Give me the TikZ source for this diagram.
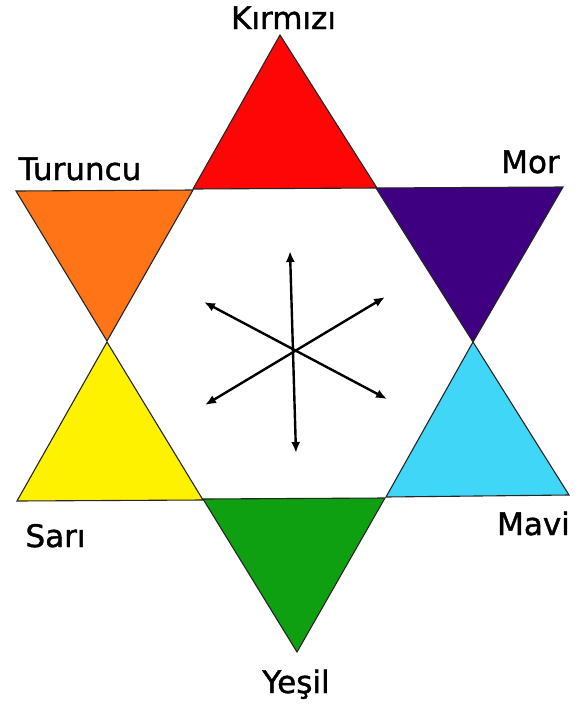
\documentclass[tikz,border=0pt]{standalone}
\usepackage{fontspec}
\setmainfont{DejaVu Sans}[FakeBold=1.3]
\usetikzlibrary{arrows.meta}
\definecolor{cred}{RGB}{255,6,6}
\definecolor{corange}{RGB}{255,116,22}
\definecolor{cpurple}{RGB}{62,0,128}
\definecolor{cyellow}{RGB}{255,242,0}
\definecolor{ccyan}{RGB}{64,214,248}
\definecolor{cgreen}{RGB}{14,160,16}
\begin{document}
\begin{tikzpicture}[x=1pt,y=-1pt,
  tri/.style={draw=black!85, line width=1.1pt, line join=miter},
  lbl/.style={font=\fontsize{31}{31}\selectfont, inner sep=0pt, anchor=base},
  arr/.style={line width=2.4pt, {Latex[length=11pt,width=9pt]}-{Latex[length=11pt,width=9pt]}}]
\useasboundingbox (0,0) rectangle (579,705);
\fill[white] (0,0) rectangle (579,705);
% vertices
\coordinate (R1) at (280,35);  \coordinate (R2) at (193,189); \coordinate (R3) at (377,188);
\coordinate (O1) at (16,191);  \coordinate (O2) at (193,190); \coordinate (O3) at (107,341);
\coordinate (P1) at (376,188); \coordinate (P2) at (563,187); \coordinate (P3) at (473,342);
\coordinate (Y1) at (107,342); \coordinate (Y2) at (17,501);  \coordinate (Y3) at (203,500);
\coordinate (C1) at (473,342); \coordinate (C2) at (386,497); \coordinate (C3) at (569,495);
\coordinate (G1) at (203,499); \coordinate (G2) at (385,498); \coordinate (G3) at (297,652);
% triangles
\filldraw[tri, fill=cred]    (R1) -- (R2) -- (R3) -- cycle;
\filldraw[tri, fill=corange] (O1) -- (O2) -- (O3) -- cycle;
\filldraw[tri, fill=cpurple] (P1) -- (P2) -- (P3) -- cycle;
\filldraw[tri, fill=cyellow] (Y1) -- (Y2) -- (Y3) -- cycle;
\filldraw[tri, fill=ccyan]   (C1) -- (C2) -- (C3) -- cycle;
\filldraw[tri, fill=cgreen]  (G1) -- (G2) -- (G3) -- cycle;
% arrows
\coordinate (up) at (290,251);  \coordinate (dn) at (296,453);
\coordinate (ul) at (204,302);  \coordinate (lr) at (387,399);
\coordinate (ur) at (385,297);  \coordinate (ll) at (205,405);
\draw[arr] (up) -- (dn);
\draw[arr] (ul) -- (lr);
\draw[arr] (ur) -- (ll);
% labels
\node[lbl] (kir) at (283.5,29) {Kırmızı};
\node[lbl] (tur) at (80,180) {Turuncu};
\node[lbl] (mor) at (530.5,173) {Mor};
\node[lbl] (sar) at (55.5,547) {Sarı};
\node[lbl] (mav) at (533.5,535) {Mavi};
\node[lbl] (yes) at (296,693) {Yeşil};
\end{tikzpicture}
\end{document}
